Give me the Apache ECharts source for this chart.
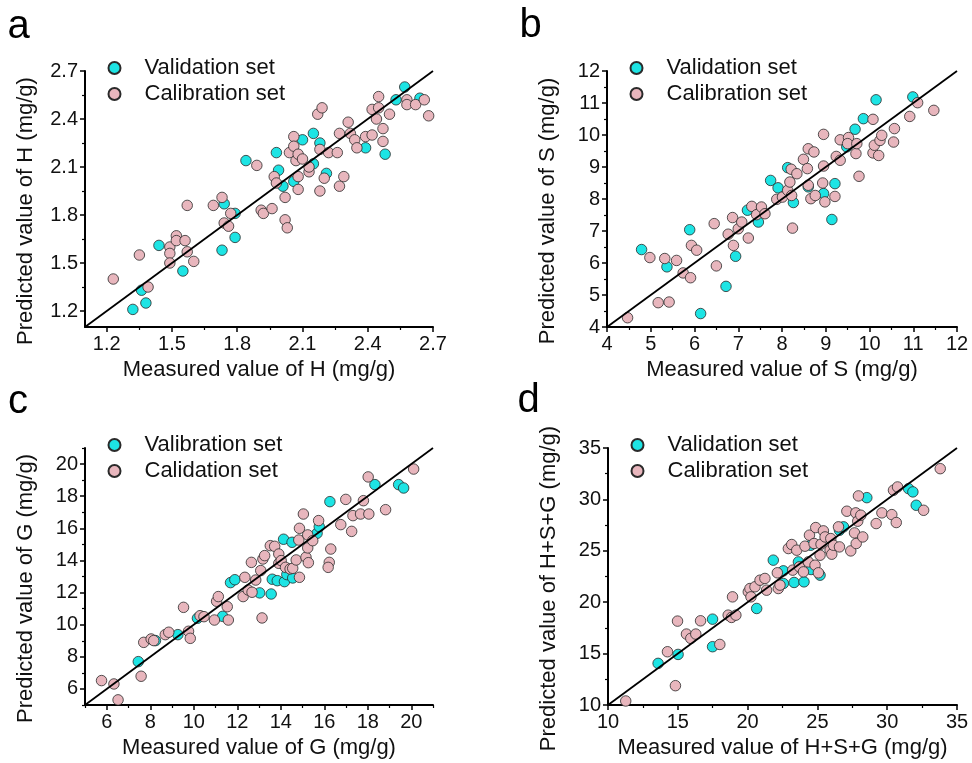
<!DOCTYPE html>
<html><head><meta charset="utf-8">
<script src="https://cdn.jsdelivr.net/npm/echarts@6/dist/echarts.min.js"></script>
<style>html,body{margin:0;padding:0;background:#fff}#c{width:972px;height:763px}</style>
</head><body><div id="c"></div>
<script>
// ---------- data ----------
const hValidation = [[1.32,1.21],[1.36,1.33],[1.38,1.25],[1.44,1.61],[1.55,1.45],[1.73,1.58],[1.74,1.87],[1.79,1.81],[1.79,1.66],[1.84,2.14],[1.98,2.19],[1.99,2.08],[2.01,1.98],[2.06,2.01],[2.10,2.27],[2.15,2.31],[2.15,2.12],[2.18,2.25],[2.21,2.06],[2.39,2.22],[2.48,2.18],[2.53,2.52],[2.57,2.60],[2.64,2.53]];
const hCalibration = [[1.23,1.40],[1.35,1.55],[1.39,1.35],[1.49,1.60],[1.49,1.56],[1.49,1.50],[1.52,1.67],[1.52,1.64],[1.56,1.64],[1.57,1.86],[1.57,1.57],[1.60,1.51],[1.69,1.86],[1.73,1.91],[1.74,1.75],[1.76,1.73],[1.77,1.81],[1.89,2.11],[1.91,1.83],[1.92,1.81],[1.96,1.84],[1.97,2.04],[1.98,2.00],[2.02,1.91],[2.02,1.77],[2.03,1.72],[2.04,2.19],[2.06,2.29],[2.06,2.23],[2.07,2.14],[2.08,2.18],[2.08,2.04],[2.08,1.96],[2.10,2.15],[2.13,2.07],[2.13,2.10],[2.17,2.43],[2.19,2.47],[2.18,2.21],[2.18,1.95],[2.20,2.03],[2.22,2.19],[2.26,2.19],[2.27,1.98],[2.27,2.31],[2.29,2.04],[2.31,2.38],[2.32,2.31],[2.34,2.27],[2.35,2.22],[2.39,2.29],[2.42,2.30],[2.42,2.46],[2.44,2.40],[2.45,2.47],[2.45,2.54],[2.47,2.34],[2.47,2.26],[2.50,2.43],[2.58,2.52],[2.58,2.49],[2.62,2.49],[2.66,2.52],[2.68,2.42]];
const sValidation = [[4.79,6.42],[5.37,5.88],[5.89,7.04],[6.14,4.42],[6.72,5.27],[6.94,6.21],[7.21,7.65],[7.46,7.28],[7.74,8.58],[7.91,8.35],[8.13,8.98],[8.26,7.89],[8.60,8.38],[8.95,8.17],[9.21,8.48],[9.14,7.36],[9.48,9.63],[9.67,10.18],[9.86,10.51],[10.15,11.10],[10.99,11.19]];
const sCalibration = [[4.47,4.29],[4.98,6.17],[5.17,4.76],[5.32,6.14],[5.42,4.78],[5.59,6.08],[5.74,5.69],[5.91,5.54],[5.93,6.55],[6.05,6.40],[6.45,7.23],[6.50,5.91],[6.77,6.90],[6.87,7.42],[6.89,6.55],[7.00,7.07],[7.08,7.28],[7.23,6.78],[7.31,7.77],[7.42,7.51],[7.53,7.75],[7.61,7.54],[7.88,7.99],[8.01,8.06],[8.13,8.27],[8.18,8.53],[8.21,8.93],[8.22,8.11],[8.24,7.09],[8.34,8.79],[8.49,9.24],[8.58,8.95],[8.60,9.57],[8.60,8.43],[8.66,8.01],[8.73,9.47],[8.76,8.11],[8.93,8.50],[8.95,10.02],[8.95,9.03],[8.98,7.91],[9.21,8.08],[9.24,9.33],[9.33,9.21],[9.33,9.85],[9.52,9.92],[9.50,9.73],[9.69,9.42],[9.71,9.73],[9.76,8.71],[10.08,10.49],[10.08,9.44],[10.11,9.68],[10.21,9.36],[10.24,9.83],[10.28,9.99],[10.55,9.78],[10.57,10.20],[10.92,10.58],[11.10,11.01],[11.47,10.77]];
const gValidation = [[7.45,7.70],[8.24,9.01],[9.27,9.38],[10.17,10.40],[11.33,10.52],[11.69,12.62],[11.89,12.80],[13.03,11.98],[13.56,11.91],[13.61,12.83],[13.84,12.74],[14.13,15.32],[14.17,12.68],[14.28,13.12],[14.55,12.91],[14.52,15.13],[15.67,15.69],[15.77,16.10],[16.26,17.66],[18.33,18.72],[19.42,18.72],[19.65,18.51]];
const gCalibration = [[5.76,6.52],[6.33,6.31],[6.52,5.32],[7.58,6.79],[7.70,8.90],[8.04,9.11],[8.16,9.01],[8.69,9.38],[8.85,9.53],[9.53,11.08],[9.76,9.59],[9.84,9.15],[10.29,10.56],[10.47,10.50],[10.95,10.29],[11.05,11.46],[11.13,11.75],[11.54,11.12],[11.59,10.29],[12.27,11.75],[12.35,12.95],[12.50,12.16],[12.65,13.88],[12.68,12.02],[12.85,12.78],[13.14,10.42],[13.18,14.09],[13.26,14.30],[13.08,13.37],[13.52,14.92],[13.72,14.88],[13.91,14.40],[13.91,13.82],[14.02,13.99],[14.22,13.57],[14.43,13.47],[14.55,13.51],[14.71,14.03],[14.86,12.95],[14.83,15.27],[14.86,16.00],[15.04,16.89],[15.16,14.20],[15.24,14.78],[15.24,15.59],[15.27,13.86],[15.47,15.23],[15.74,16.48],[16.30,14.71],[16.23,13.88],[16.18,13.57],[16.76,16.23],[16.99,17.80],[17.26,15.81],[17.32,16.79],[17.67,16.89],[17.80,17.72],[18.02,19.20],[18.05,16.89],[18.82,17.16],[20.11,19.69]];
const tValidation = [[13.59,14.05],[15.02,14.92],[17.49,18.35],[17.49,15.67],[20.65,19.39],[21.84,24.09],[22.56,23.05],[22.56,21.82],[23.33,21.92],[23.64,23.92],[24.04,21.98],[24.55,23.18],[24.52,25.54],[25.19,22.63],[26.58,27.00],[26.87,27.33],[28.54,30.17],[31.53,31.05],[31.84,30.73],[32.08,29.43]];
const tCalibration = [[11.27,10.39],[14.26,15.18],[14.83,11.88],[14.98,18.16],[15.62,16.90],[15.93,16.48],[16.29,16.90],[16.63,18.19],[18.01,15.89],[18.61,18.74],[18.85,18.52],[19.16,18.74],[18.92,20.52],[20.05,21.01],[20.17,21.33],[20.24,20.52],[20.53,21.50],[20.89,22.14],[21.24,22.31],[21.36,21.17],[22.13,22.86],[22.20,21.33],[22.32,21.66],[22.92,25.22],[23.16,25.61],[23.23,23.12],[23.52,25.06],[23.71,23.44],[24.00,22.95],[24.11,25.45],[24.35,23.92],[24.43,26.52],[24.76,25.71],[24.83,23.60],[24.88,27.26],[25.07,22.86],[25.19,24.57],[25.26,25.64],[25.43,26.94],[25.55,26.35],[25.91,25.06],[25.96,26.19],[26.03,24.67],[26.15,25.54],[26.51,27.33],[26.58,25.38],[27.11,28.85],[27.39,24.99],[27.66,26.74],[27.78,25.71],[27.75,28.69],[27.89,27.88],[27.94,30.34],[28.11,28.46],[28.25,26.35],[29.21,27.65],[29.62,28.69],[30.33,28.52],[30.45,30.89],[30.65,27.75],[30.74,31.21],[32.61,28.94],[33.80,32.99]];

const hRange = [1.1, 2.7];
const hTicks = [1.2, 1.5, 1.8, 2.1, 2.4, 2.7];
const hMinor = [1.35, 1.65, 1.95, 2.25, 2.55];
const sRange = [4, 12];
const sTicks = [4, 5, 6, 7, 8, 9, 10, 11, 12];
const sMinor = [4.5, 5.5, 6.5, 7.5, 8.5, 9.5, 10.5, 11.5];
const gRange = [5, 21];
const gTicks = [6, 8, 10, 12, 14, 16, 18, 20];
const gMinor = [5, 7, 9, 11, 13, 15, 17, 19, 21];
const tRange = [10, 35];
const tTicks = [10, 15, 20, 25, 30, 35];
const tMinor = [12.5, 17.5, 22.5, 27.5, 32.5];

const panelLetters = ['a', 'b', 'c', 'd'];
const legendA = ['Validation set', 'Calibration set'];
const legendC = ['Valibration set', 'Calidation set'];
const xNames = ['Measured value of H (mg/g)', 'Measured value of S (mg/g)', 'Measured value of G (mg/g)', 'Measured value of H+S+G (mg/g)'];
const yNames = ['Predicted value of H (mg/g)', 'Predicted value of S (mg/g)', 'Predicted value of G (mg/g)', 'Predicted value of H+S+G (mg/g)'];

// ---------- layout ----------
const FONT = 'Liberation Sans, Arial, sans-serif';
const TXT = '#111';
const grids = [
  {left: 85, top: 71, width: 348, height: 256},
  {left: 607, top: 71, width: 350, height: 256},
  {left: 85, top: 448, width: 348, height: 257},
  {left: 608, top: 448, width: 349, height: 257}
];
const panels = [
  {range: hRange, ticks: hTicks, minor: hMinor, val: hValidation, cal: hCalibration, names: legendA},
  {range: sRange, ticks: sTicks, minor: sMinor, val: sValidation, cal: sCalibration, names: legendA},
  {range: gRange, ticks: gTicks, minor: gMinor, val: gValidation, cal: gCalibration, names: legendC},
  {range: tRange, ticks: tTicks, minor: tMinor, val: tValidation, cal: tCalibration, names: legendA}
];
const letterPos = [[7.5, 27], [519.5, 26], [8, 402], [517.5, 401]];

const xAxis = [], yAxis = [], series = [], legend = [], graphic = [];
panels.forEach((p, i) => {
  const mk = (isX) => ([{
    type: 'value', gridIndex: i, min: p.range[0], max: p.range[1],
    position: isX ? 'bottom' : 'left',
    name: isX ? xNames[i] : yNames[i], nameLocation: 'middle',
    nameGap: isX ? 32 : 48, nameRotate: isX ? 0 : 90,
    nameTextStyle: isX ? {fontSize: 22, color: TXT, fontFamily: FONT}
                       : {fontSize: 22, color: TXT, fontFamily: FONT, padding: [0, 24, 0, 0]},
    axisLine: {show: true, onZero: false, lineStyle: {color: '#000', width: 2}},
    axisTick: {show: true, customValues: p.ticks, length: 5, lineStyle: {color: '#000', width: 1.5}},
    axisLabel: {customValues: p.ticks, fontSize: 20, color: TXT, fontFamily: FONT, margin: 7},
    splitLine: {show: false}
  }, {
    type: 'value', gridIndex: i, min: p.range[0], max: p.range[1],
    position: isX ? 'bottom' : 'left',
    axisLine: {show: false},
    axisTick: {show: true, customValues: p.minor, length: 3, lineStyle: {color: '#000', width: 1.2}},
    axisLabel: {show: false},
    splitLine: {show: false}
  }]);
  xAxis.push(...mk(true));
  yAxis.push(...mk(false));
  const ax = i * 2;
  series.push({
    name: p.names[0], type: 'scatter', xAxisIndex: ax, yAxisIndex: ax, data: p.val,
    symbol: 'circle', symbolSize: 10.5, z: 2,
    itemStyle: {color: '#1de4e4', borderColor: '#2a2a2a', borderWidth: 0.8, opacity: 1},
    emphasis: {disabled: true}
  }, {
    name: p.names[1], type: 'scatter', xAxisIndex: ax, yAxisIndex: ax, data: p.cal,
    symbol: 'circle', symbolSize: 10.5, z: 3,
    itemStyle: {color: '#e8b6bd', borderColor: '#2a2a2a', borderWidth: 0.8, opacity: 1},
    emphasis: {disabled: true}
  }, {
    type: 'line', xAxisIndex: ax, yAxisIndex: ax, z: 4,
    data: [[p.range[0], p.range[0]], [p.range[1], p.range[1]]],
    symbol: 'none', silent: true,
    lineStyle: {color: '#000', width: 1.8}
  });
  const g = grids[i];
  legend.push({
    orient: 'vertical', left: g.left + 22.5, top: g.top - 14, padding: 0,
    itemWidth: 50, itemHeight: 12, itemGap: 4, icon: 'circle',
    selectedMode: false, data: p.names,
    textStyle: {fontSize: 22, color: TXT, fontFamily: FONT}
  });
  graphic.push({
    type: 'text', x: letterPos[i][0], y: letterPos[i][1],
    style: {text: panelLetters[i], fontSize: 40, fill: '#000', fontFamily: FONT, verticalAlign: 'middle', align: 'left'}
  });
});

const chart = echarts.init(document.getElementById('c'), null, {renderer: 'canvas'});
chart.setOption({
  backgroundColor: '#fff',
  animation: false,
  textStyle: {fontFamily: FONT},
  grid: grids.map(g => Object.assign({containLabel: false}, g)),
  xAxis, yAxis, series, legend, graphic
});
</script></body></html>
